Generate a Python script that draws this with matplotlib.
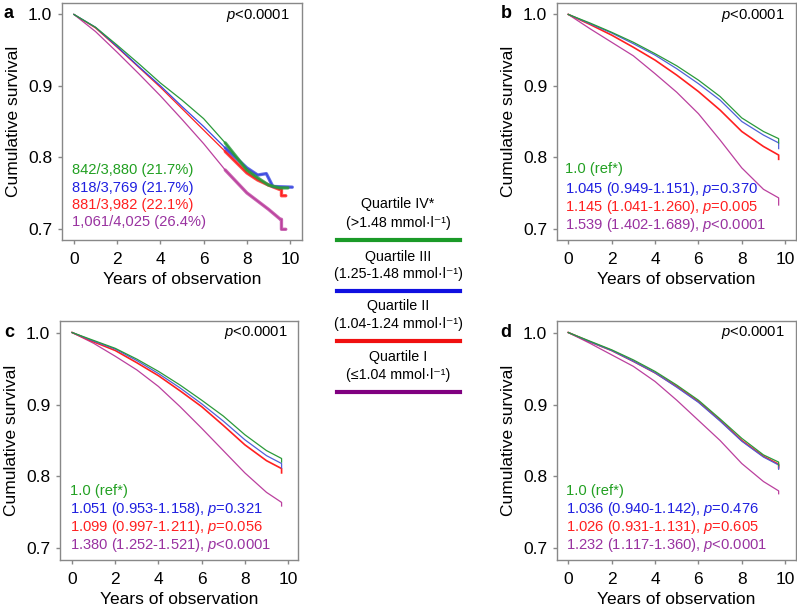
import matplotlib
matplotlib.use("Agg")
import matplotlib.pyplot as plt
from matplotlib.lines import Line2D
import numpy as np

plt.rcParams['font.family'] = ['Liberation Sans', 'DejaVu Sans']
plt.rcParams['mathtext.fontset'] = 'custom'
plt.rcParams['mathtext.rm'] = 'Liberation Sans'
plt.rcParams['mathtext.it'] = 'Liberation Sans:italic'

W, H = 797, 607

# colours
C_GREEN = '#2a9a3a'
C_BLUE = '#3a48e0'
C_RED = '#ff2020'
C_PURPLE = '#bb409e'
T_GREEN = '#22a022'
T_BLUE = '#2020e0'
T_RED = '#ff2020'
T_PURPLE = '#9932a0'

# ---- panel a: unadjusted Kaplan-Meier
a_green_x = [0, 1, 2, 3, 4, 5, 6, 7, 7.5, 8, 8.5, 9, 9.5, 9.9]
a_green_y = [1.0, 0.982, 0.957, 0.931, 0.904, 0.880, 0.854, 0.820, 0.801, 0.782, 0.771, 0.761, 0.757, 0.757]
a_blue_x = [0, 1, 2, 3, 4, 5, 6, 7, 7.5, 8, 8.5, 8.9, 9.2, 10.1]
a_blue_y = [1.0, 0.982, 0.955, 0.927, 0.900, 0.871, 0.843, 0.813, 0.799, 0.785, 0.775, 0.777, 0.759, 0.758]
a_red_x = [0, 1, 2, 3, 4, 5, 6, 7, 7.5, 8, 8.5, 9, 9.5, 9.6, 9.6, 9.8]
a_red_y = [1.0, 0.981, 0.954, 0.926, 0.898, 0.868, 0.838, 0.808, 0.793, 0.778, 0.768, 0.761, 0.755, 0.755, 0.746, 0.746]
a_purple_x = [0, 1, 2, 3, 4, 5, 6, 7, 8, 9, 9.55, 9.6, 9.6, 9.8]
a_purple_y = [1.0, 0.976, 0.947, 0.917, 0.886, 0.853, 0.819, 0.782, 0.750, 0.727, 0.713, 0.713, 0.699, 0.699]

# ---- panels b, c, d: adjusted curves, common year grid
years = [0, 1, 2, 3, 4, 5, 6, 7, 8, 9, 9.7, 9.7]
b_green = [1.0, 0.988, 0.975, 0.961, 0.945, 0.928, 0.908, 0.885, 0.855, 0.836, 0.826, 0.820]
b_blue = [1.0, 0.987, 0.974, 0.959, 0.943, 0.924, 0.903, 0.880, 0.850, 0.831, 0.820, 0.812]
b_red = [1.0, 0.986, 0.971, 0.954, 0.936, 0.915, 0.892, 0.866, 0.836, 0.815, 0.803, 0.797]
b_purple = [1.0, 0.980, 0.961, 0.942, 0.917, 0.891, 0.861, 0.824, 0.785, 0.755, 0.743, 0.733]

c_green = [1.0, 0.989, 0.978, 0.963, 0.946, 0.927, 0.906, 0.884, 0.858, 0.836, 0.825, 0.820]
c_blue = [1.0, 0.988, 0.977, 0.961, 0.943, 0.923, 0.901, 0.877, 0.851, 0.829, 0.818, 0.812]
c_red = [1.0, 0.987, 0.975, 0.958, 0.940, 0.919, 0.897, 0.871, 0.844, 0.822, 0.811, 0.805]
c_purple = [1.0, 0.985, 0.967, 0.948, 0.925, 0.897, 0.867, 0.836, 0.805, 0.778, 0.764, 0.759]

d_green = [1.0, 0.988, 0.976, 0.962, 0.946, 0.927, 0.906, 0.880, 0.853, 0.830, 0.820, 0.815]
d_blue = [1.0, 0.987, 0.975, 0.960, 0.944, 0.924, 0.903, 0.877, 0.849, 0.827, 0.816, 0.810]
d_red = [1.0, 0.987, 0.975, 0.960, 0.944, 0.925, 0.904, 0.878, 0.850, 0.828, 0.817, 0.812]
d_purple = [1.0, 0.985, 0.969, 0.953, 0.932, 0.906, 0.878, 0.850, 0.818, 0.793, 0.780, 0.776]

a_labels = ['842/3,880 (21.7%)', '818/3,769 (21.7%)', '881/3,982 (22.1%)', '1,061/4,025 (26.4%)']
b_labels = ['1.0 (ref*)', '1.045 (0.949-1.151), $\\it{p}$=0.370',
            '1.145 (1.041-1.260), $\\it{p}$=0.005', '1.539 (1.402-1.689), $\\it{p}$<0.0001']
c_labels = ['1.0 (ref*)', '1.051 (0.953-1.158), $\\it{p}$=0.321',
            '1.099 (0.997-1.211), $\\it{p}$=0.056', '1.380 (1.252-1.521), $\\it{p}$<0.0001']
d_labels = ['1.0 (ref*)', '1.036 (0.940-1.142), $\\it{p}$=0.476',
            '1.026 (0.931-1.131), $\\it{p}$=0.605', '1.232 (1.117-1.360), $\\it{p}$<0.0001']

legend_titles = ['Quartile IV*', 'Quartile III', 'Quartile II', 'Quartile I']
legend_ranges = ['(>1.48 mmol·l⁻¹)', '(1.25-1.48 mmol·l⁻¹)',
                 '(1.04-1.24 mmol·l⁻¹)', '(≤1.04 mmol·l⁻¹)']
legend_colors = ['#1a9a28', '#1010e0', '#f01010', '#800080']

fig = plt.figure(figsize=(W / 100, H / 100), dpi=100)


def px_axes(x0, y0, x1, y1):
    return fig.add_axes([x0 / W, 1 - y1 / H, (x1 - x0) / W, (y1 - y0) / H])


def style(ax, xlim):
    ax.set_xlim(*xlim)
    ax.set_ylim(0.684, 1.016)
    ax.set_xticks(range(0, 11, 2))
    ax.set_yticks([0.7, 0.8, 0.9, 1.0])
    ax.set_yticklabels(['0.7', '0.8', '0.9', '1.0'])
    for s in ax.spines.values():
        s.set_color('#888888')
        s.set_linewidth(1.0)
    ax.tick_params(axis='both', colors='#888888', labelcolor='black', labelsize=12.5,
                   length=3, width=1)
    ax.tick_params(axis='x', pad=6)
    ax.tick_params(axis='y', pad=4)
    ax.set_xlabel('Years of observation', fontsize=12.5, labelpad=3)
    ax.set_ylabel('Cumulative survival', fontsize=12.5, labelpad=5)


axes = {
    'a': px_axes(62, 3, 302, 240),
    'b': px_axes(557, 3, 796, 240),
    'c': px_axes(60, 321, 298, 560),
    'd': px_axes(557, 321, 796, 560),
}

# panel a
ax = axes['a']
style(ax, (-0.55, 10.55))
for xs, ys, c in [(a_purple_x, a_purple_y, C_PURPLE), (a_red_x, a_red_y, C_RED),
                  (a_blue_x, a_blue_y, C_BLUE), (a_green_x, a_green_y, C_GREEN)]:
    xs = np.array(xs)
    ys = np.array(ys)
    ax.plot(xs, ys, color=c, lw=0.9)
    tail = xs >= 7
    ax.plot(xs[tail], ys[tail], color=c, lw=2.4, alpha=0.8, solid_capstyle='round')

for key, g, b, r, p in [('b', b_green, b_blue, b_red, b_purple),
                        ('c', c_green, c_blue, c_red, c_purple),
                        ('d', d_green, d_blue, d_red, d_purple)]:
    ax = axes[key]
    style(ax, (-0.52, 10.5) if key != 'c' else (-0.56, 10.46))
    ax.plot(years, p, color=C_PURPLE, lw=0.9)
    ax.plot(years, r, color=C_RED, lw=1.2)
    ax.plot(years, b, color='#5060d8', lw=0.9)
    ax.plot(years, g, color=C_GREEN, lw=0.9)

text_colors = [T_GREEN, T_BLUE, T_RED, T_PURPLE]


def put_labels(labels, x, ys):
    for lab, yy, col in zip(labels, ys, text_colors):
        fig.text(x / W, 1 - yy / H, lab, color=col, fontsize=10.6, va='center', ha='left')


put_labels(a_labels, 72, [170, 188, 205, 222])
put_labels(b_labels, 565, [169, 189, 207, 225])
put_labels(c_labels, 70, [491, 509, 527, 545])
put_labels(d_labels, 566, [491, 509, 527, 545])

# p values and panel letters
for x, y in [(290, 16), (785, 15), (288, 333), (785, 333)]:
    fig.text(x / W, 1 - y / H, '$\\it{p}$<0.0001', fontsize=10.6, ha='right', va='center')
for lab, x, y in [('a', 9, 14), ('b', 506, 14), ('c', 9, 333), ('d', 506, 333)]:
    fig.text(x / W, 1 - y / H, lab, fontsize=13, fontweight='bold', ha='center', va='center')

# centre legend
title_y = [204, 257, 306, 357]
range_y = [223, 274, 324, 375]
line_y = [240, 291, 341, 392]
for t, rng, c, ty, ry, ly in zip(legend_titles, legend_ranges, legend_colors, title_y, range_y, line_y):
    fig.text(398 / W, 1 - ty / H, t, fontsize=10.3, ha='center', va='center')
    fig.text(398 / W, 1 - ry / H, rng, fontsize=10.3, ha='center', va='center')
    fig.add_artist(Line2D([337 / W, 460 / W], [1 - ly / H, 1 - ly / H], color=c, lw=3))

fig.savefig('out.png', dpi=100)
